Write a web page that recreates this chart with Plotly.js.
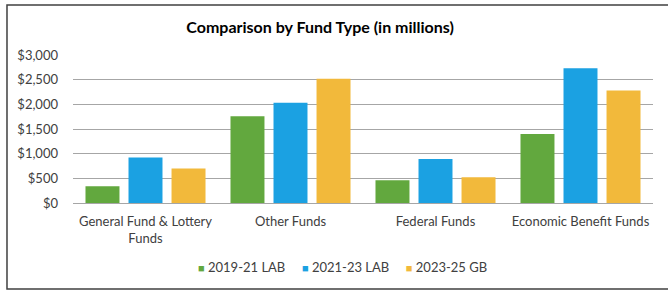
<!DOCTYPE html>
<html>
<head>
<meta charset="utf-8">
<script src="https://cdn.plot.ly/plotly-3.0.1.min.js"></script>
<style>
  html, body { margin: 0; padding: 0; background: #ffffff; }
  #chart { width: 668px; height: 291px; }
</style>
</head>
<body>
<div id="chart"></div>
<script>
const categories = ["General Fund & Lottery<br>Funds", "Other Funds", "Federal Funds", "Economic Benefit Funds"];
const seriesNames = ["2019-21 LAB", "2021-23 LAB", "2023-25 GB"];
const lab2019 = [340, 1760, 460, 1400];
const lab2021 = [920, 2030, 890, 2730];
const gb2023 = [700, 2520, 520, 2280];
const tickVals = [0, 500, 1000, 1500, 2000, 2500, 3000];
const tickText = ["$0", "$500", "$1,000", "$1,500", "$2,000", "$2,500", "$3,000"];

const colors = ["#62a83e", "#1ba1e2", "#f2b93b"];
const seriesValues = [lab2019, lab2021, gb2023];
const font = "Lato, 'Open Sans', sans-serif";

const traces = seriesValues.map((vals, i) => ({
  type: "bar",
  name: seriesNames[i],
  x: categories,
  y: vals,
  marker: { color: colors[i] },
  showlegend: false,
  hoverinfo: "skip"
}));

// Compact legend (Excel style: small square right next to the label)
const legendText = seriesNames.map((n, i) =>
  '<span style="color:' + colors[i] + ';font-size:11px">■</span> ' + n
).join('&nbsp;&nbsp;&nbsp;&nbsp;&nbsp;');

const layout = {
  width: 668,
  height: 291,
  margin: { l: 73, r: 15, t: 55, b: 88 },
  paper_bgcolor: "#ffffff",
  plot_bgcolor: "#ffffff",
  barmode: "group",
  bargap: 0.11,
  bargroupgap: 0.21,
  showlegend: false,
  font: { family: font, color: "#404040", size: 12 },
  title: {
    text: "<b>Comparison by Fund Type (in millions)</b>",
    font: { family: font, size: 16, color: "#000000" },
    x: 0.426, xref: "paper", xanchor: "center",
    y: 0.905, yref: "container", yanchor: "middle"
  },
  xaxis: {
    type: "category",
    showgrid: false,
    showline: true,
    linecolor: "#a6a6a6",
    linewidth: 1,
    ticks: "",
    ticklabelstandoff: 6,
    tickfont: { family: font, size: 13, color: "#404040" },
    fixedrange: true
  },
  yaxis: {
    range: [0, 3000],
    tickvals: tickVals,
    ticktext: tickText,
    showgrid: true,
    gridcolor: "#a6a6a6",
    gridwidth: 1,
    zeroline: false,
    showline: false,
    ticks: "",
    ticklabelstandoff: 14,
    tickfont: { family: font, size: 13, color: "#404040" },
    fixedrange: true
  },
  annotations: [{
    text: legendText,
    xref: "paper", yref: "paper",
    x: 0.465, xanchor: "center",
    y: -0.43, yanchor: "middle",
    showarrow: false,
    font: { family: font, size: 13, color: "#404040" }
  }],
  shapes: [{
    type: "rect",
    xref: "paper", yref: "paper",
    x0: -0.1138, x1: 1.04,
    y0: -0.581, y1: 1.338,
    line: { color: "#404040", width: 1.5 },
    fillcolor: "rgba(0,0,0,0)",
    layer: "below"
  }]
};

Plotly.newPlot("chart", traces, layout, { displayModeBar: false, staticPlot: true });
</script>
</body>
</html>
